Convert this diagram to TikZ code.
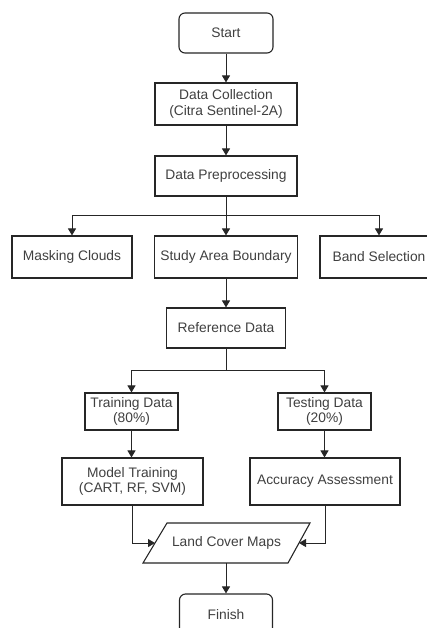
\documentclass[tikz,border=0pt]{standalone}
\usepackage{fontspec}
\setmainfont{Liberation Sans}
\usetikzlibrary{arrows.meta}
\definecolor{ln}{HTML}{262626}
\definecolor{tx}{HTML}{404040}
\begin{document}
\begin{tikzpicture}[x=1pt,y=-1pt,
  box/.style={draw=ln, line width=1.1pt, fill=white, text=tx, inner sep=0pt,
    font=\fontsize{13.8}{15.5}\selectfont, align=center},
  rbox/.style={box, rounded corners=6pt},
  conn/.style={draw=ln, line width=1pt, -{Triangle[length=7pt,width=8pt]}},
  plain/.style={draw=ln, line width=1pt}]
\useasboundingbox (0,0) rectangle (427,628);
\clip (0,0) rectangle (427,628);
\node[rbox, minimum width=94pt, minimum height=40pt] (start) at (226,33) {Start};
\node[box, minimum width=142pt, minimum height=42pt] (dc) at (226,104) {Data Collection\\(Citra Sentinel-2A)};
\node[box, minimum width=142pt, minimum height=40pt] (dp) at (226,176) {Data Preprocessing};
\node[box, minimum width=120pt, minimum height=42pt] (mc) at (72,257) {Masking Clouds};
\node[box, minimum width=143pt, minimum height=42pt] (sab) at (226,257) {Study Area Boundary};
\node[box, minimum width=118pt, minimum height=42pt] (bs) at (379,257) {Band Selection};
\node[box, minimum width=119pt, minimum height=40pt] (rd) at (226,328) {Reference Data};
\node[box, minimum width=93pt, minimum height=37pt] (td) at (131.5,411.5) {Training Data\\(80\%)};
\node[box, minimum width=93pt, minimum height=37pt] (ted) at (324.5,411.5) {Testing Data\\(20\%)};
\node[box, minimum width=141pt, minimum height=47pt] (mt) at (132.5,481.5) {Model Training\\(CART, RF, SVM)};
\node[box, minimum width=150pt, minimum height=47pt] (aa) at (325,481.5) {Accuracy Assessment};
% parallelogram
\coordinate (pbl) at (143,563);
\coordinate (ptl) at (167,523);
\coordinate (ptr) at (310,523);
\coordinate (pbr) at (288,563);
\draw[ln, line width=1.1pt, fill=white] (pbl) -- (ptl) -- (ptr) -- (pbr) -- cycle;
\node[text=tx, font=\fontsize{13.8}{15.5}\selectfont] (lcm) at (226.5,543) {Land Cover Maps};
\coordinate (lcml) at (155,543);
\coordinate (lcmr) at (299,543);
\node[rbox, minimum width=93pt, minimum height=42pt] (fin) at (226,615) {Finish};
% connectors
\draw[conn] (start) -- (dc);
\draw[conn] (dc) -- (dp);
\coordinate (b1) at (226,215);
\draw[plain] (dp.south) -- (b1);
\draw[conn] (b1) -| (mc.north);
\draw[conn] (b1) -| (bs.north);
\draw[conn] (b1) -- (sab.north);
\draw[conn] (sab) -- (rd);
\coordinate (b2) at (226,370);
\draw[plain] (rd.south) -- (b2);
\draw[conn] (b2) -| (td.north);
\draw[conn] (b2) -| (ted.north);
\draw[conn] (td.south) -- (td.south |- mt.north);
\draw[conn] (ted.south) -- (ted.south |- aa.north);
\draw[conn] (mt.south) |- (lcml);
\draw[conn] (aa.south) |- (lcmr);
\draw[conn] (fin.north |- pbl) -- (fin.north);
\end{tikzpicture}
\end{document}
